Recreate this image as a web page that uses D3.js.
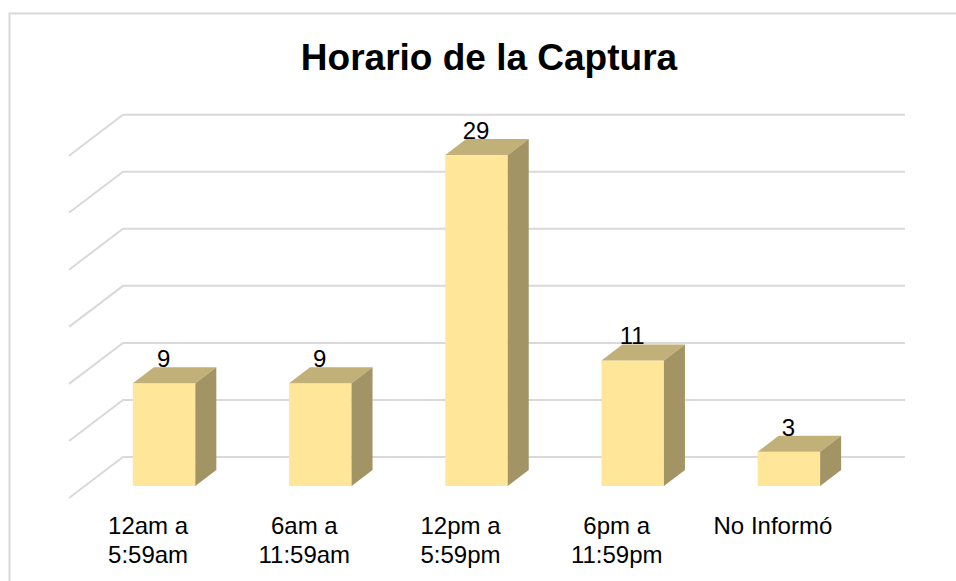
<!DOCTYPE html>
<html>
<head>
<meta charset="utf-8">
<script src="https://cdn.jsdelivr.net/npm/d3@7"></script>
<style>
  html, body { margin: 0; padding: 0; background: #fff; }
  svg { display: block; }
  text { font-family: "Liberation Sans", Arial, sans-serif; fill: #000; }
</style>
</head>
<body>
<div id="chart"></div>
<script>
"use strict";

const categories = ['12am a 5:59am', '6am a 11:59am', '12pm a 5:59pm', '6pm a 11:59pm', 'No Informó'];
const values = [9, 9, 29, 11, 3];
const tickLabels = [['12am a', '5:59am'], ['6am a', '11:59am'], ['12pm a', '5:59pm'], ['6pm a', '11:59pm'], ['No Informó']];
const gridTicks = [0, 5, 10, 15, 20, 25, 30];

const width = 956
    , height = 581
    , DEPTH_X = 21
    , DEPTH_Y = 16

const svg = d3.select('#chart').append('svg')
  .attr('width', width)
  .attr('height', height)

// chart area border, only top and left show in the crop
svg.append('path')
  .attr('d', d3.line()([[9.5, height], [9.5, 13.5], [width, 13.5]]))
  .attr('fill', 'none')
  .attr('stroke', '#d9d9d9')
  .attr('stroke-width', 2)

svg.append('text')
  .attr('x', 489)
  .attr('y', 70)
  .attr('text-anchor', 'middle')
  .style('font-size', '37px')
  .style('font-weight', 'bold')
  .text('Horario de la Captura')

const x = d3.scaleBand()
  .domain(categories)
  .range([86, 867])
  .paddingInner(0.6)
  .paddingOuter(0.3)

const y = d3.scaleLinear()
  .domain([0, 30])
  .range([486, 143.7])

/*
 * Gridlines: floor/back wall of the fake 3d box
 ***/
const GRID_LIFT = 29
    , GRID_BACK_X = 123
    , GRID_FRONT_X = 69
    , GRID_END_X = 905
    , GRID_SIDE_DROP = 41

svg.append('g')
  .selectAll('path')
  .data(gridTicks)
  .enter()
  .append('path')
  .attr('d', d => {
    const gy = y(d) - GRID_LIFT;
    return d3.line()([[GRID_FRONT_X, gy + GRID_SIDE_DROP], [GRID_BACK_X, gy], [GRID_END_X, gy]]);
  })
  .attr('fill', 'none')
  .attr('stroke', '#d9d9d9')
  .attr('stroke-width', 2)

/*
 * Bars
 ***/
const bars = svg.append('g')
  .selectAll('g')
  .data(categories.map((c, i) => ({ c, v: values[i] })))
  .enter()
  .append('g')

bars.append('rect')
  .attr('x', d => x(d.c))
  .attr('y', d => y(d.v))
  .attr('width', x.bandwidth())
  .attr('height', d => y(0) - y(d.v))
  .attr('fill', '#ffe699')

bars.append('path')
  .attr('d', d => {
    const x0 = x(d.c), x1 = x0 + x.bandwidth(), t = y(d.v);
    return d3.line()([[x0, t], [x0 + DEPTH_X, t - DEPTH_Y], [x1 + DEPTH_X, t - DEPTH_Y], [x1, t]]) + 'Z';
  })
  .attr('fill', '#c1b077')

bars.append('path')
  .attr('d', d => {
    const x1 = x(d.c) + x.bandwidth(), t = y(d.v), b = y(0);
    return d3.line()([[x1, t], [x1 + DEPTH_X, t - DEPTH_Y], [x1 + DEPTH_X, b - DEPTH_Y], [x1, b]]) + 'Z';
  })
  .attr('fill', '#a39465')

bars.append('text')
  .attr('x', d => x(d.c) + x.bandwidth() / 2 - 0.5)
  .attr('y', d => y(d.v) - 16)
  .attr('text-anchor', 'middle')
  .style('font-size', '24px')
  .text(d => d.v)

/*
 * Category labels
 ***/
const LABEL_SHIFT = -16

const labels = svg.append('g')
  .selectAll('text')
  .data(categories)
  .enter()
  .append('text')
  .attr('text-anchor', 'middle')
  .style('font-size', '24px')

labels.selectAll('tspan')
  .data((d, i) => tickLabels[i].map(line => ({ line, c: d })))
  .enter()
  .append('tspan')
  .attr('x', d => x(d.c) + x.bandwidth() / 2 + LABEL_SHIFT)
  .attr('y', (d, i) => 534 + i * 29)
  .text(d => d.line)
</script>
</body>
</html>
